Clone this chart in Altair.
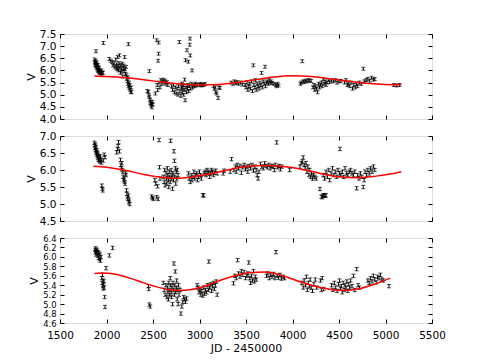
import altair as alt
import pandas as pd

# ---------------- Panel 1 data ----------------
t1 = [1872, 1875, 1878, 1880, 1883, 1885, 1887, 1888, 1890, 1893, 1895, 1898, 1900, 1903, 1905, 1908, 1910,
      1913, 1915, 1918, 1920, 1923, 1925, 1930, 1935, 1940, 1945, 1950, 1955, 1960, 1966,
      2030, 2045, 2060, 2070, 2080, 2090, 2100, 2105, 2110, 2115, 2120, 2125, 2130, 2135, 2140, 2145,
      2150, 2155, 2160, 2165, 2170, 2175, 2180, 2185, 2190, 2195, 2200, 2205, 2210, 2215, 2220, 2225,
      2228, 2232, 2235, 2238, 2242, 2245, 2250, 2255, 2260, 2265, 2270,
      2440, 2450, 2455, 2460, 2462, 2468, 2472, 2476, 2480, 2484, 2488, 2492, 2498,
      2525, 2540, 2545, 2550, 2555, 2560, 2562, 2565, 2575, 2585, 2595, 2600, 2610, 2620, 2630, 2640,
      2650, 2660,
      2700, 2710, 2720, 2730, 2740, 2750, 2760, 2770, 2775, 2783, 2790, 2800, 2805, 2810, 2815, 2820,
      2825, 2830, 2835, 2840, 2845, 2850, 2855, 2860, 2865, 2870, 2875, 2880, 2885, 2890, 2895, 2898,
      2900, 2905, 2910, 2920, 2925, 2935, 2945, 2955, 2965, 2975,
      3000, 3010, 3020, 3030, 3045, 3060,
      3150, 3160, 3170, 3175, 3185, 3200, 3210, 3220,
      3340, 3360, 3375, 3390, 3405, 3420, 3440, 3460,
      3490, 3500, 3510, 3520, 3530, 3540, 3550, 3560, 3570, 3578, 3585, 3595, 3600, 3610, 3620, 3630,
      3640, 3650, 3660, 3667, 3675, 3685, 3695, 3704, 3710, 3720, 3730, 3740, 3750, 3760, 3770, 3780,
      3800, 3820, 3830, 3840, 3850,
      4085, 4095, 4105, 4115, 4125, 4140, 4155, 4170, 4185, 4200,
      4220, 4230, 4240, 4250, 4260, 4270, 4280, 4290, 4300, 4310, 4320, 4330, 4340, 4350, 4360, 4370,
      4385, 4400, 4420, 4440, 4460, 4480, 4500, 4520,
      4560, 4575, 4590, 4600, 4615, 4630, 4645, 4660, 4675, 4690, 4700, 4720, 4740, 4761, 4770, 4790,
      4810, 4830, 4850, 4870, 4885,
      5090, 5120, 5150]
v1 = [6.45, 6.35, 6.30, 6.22, 6.40, 6.28, 6.79, 6.18, 6.25, 6.12, 6.33, 6.20, 6.08, 6.15, 6.02, 6.22, 5.98,
      6.10, 6.05, 5.95, 6.12, 5.92, 6.00, 5.90, 5.95, 5.88, 6.00, 5.87, 5.92, 5.90, 7.13,
      6.47, 6.40, 6.35, 6.20, 6.30, 6.15, 6.45, 6.10, 6.25, 6.05, 6.55, 6.18, 6.00, 6.30, 6.62, 6.12,
      5.90, 6.22, 6.05, 5.95, 6.28, 5.75, 6.10, 6.20, 5.98, 6.55, 6.05, 5.85, 6.15, 5.80, 5.65, 5.55,
      5.72, 5.45, 7.08, 5.35, 5.50, 5.28, 5.40, 5.20, 5.12, 5.30, 5.10,
      5.15, 5.12, 4.97, 5.97, 4.90, 4.80, 4.65, 4.72, 4.55, 4.62, 4.48, 4.70, 4.60,
      5.05, 7.24, 5.40, 5.20, 6.40, 6.69, 7.15, 5.50, 5.30, 5.60, 5.45, 5.55, 5.62, 5.50, 5.58, 5.45,
      5.52, 5.40,
      5.35, 5.20, 5.40, 5.10, 5.30, 5.05, 5.25, 5.00, 5.35, 7.17, 5.15, 4.95, 5.30, 5.45, 5.10, 5.25,
      5.40, 5.00, 5.20, 5.62, 4.77, 6.42, 5.30, 5.10, 6.83, 5.25, 5.40, 6.36, 5.15, 5.35, 7.06, 7.31,
      6.62, 5.25, 5.45, 6.00, 5.30, 5.40, 5.35, 5.45, 5.38, 5.42,
      5.40, 5.45, 5.38, 5.42, 5.40, 5.44,
      5.35, 5.25, 5.30, 5.10, 5.05, 4.87, 5.30, 5.28,
      5.50, 5.45, 5.55, 5.48, 5.52, 5.45, 5.50, 5.42,
      5.40, 5.30, 5.50, 5.20, 5.35, 5.45, 5.25, 5.55, 5.15, 6.21, 5.40, 5.30, 5.60, 5.20, 5.45, 5.35,
      5.25, 5.50, 5.40, 5.90, 5.30, 5.55, 5.45, 6.15, 5.35, 5.50, 5.55, 5.45, 5.60, 5.50, 5.55, 5.48,
      5.45, 5.40, 5.35, 5.45, 5.38,
      5.45, 5.50, 6.38, 5.55, 5.52, 5.58, 5.55, 5.60, 5.58, 5.57,
      5.30, 5.40, 5.20, 5.35, 5.25, 5.10, 5.45, 5.30, 5.40, 5.50, 5.35, 5.65, 5.45, 5.55, 5.40, 5.50,
      5.60, 5.52, 5.58, 5.55, 5.60, 5.50, 5.55, 5.57,
      5.50, 5.60, 5.40, 5.45, 5.35, 5.50, 5.25, 5.40, 5.30, 5.45, 5.35, 5.50, 5.45, 6.07, 5.55, 5.60,
      5.65, 5.58, 5.70, 5.62, 5.65,
      5.40, 5.38, 5.40]
fit1_t = [1870, 2000, 2200, 2400, 2600, 2800, 3000, 3200, 3400, 3600, 3800, 4000, 4200, 4400, 4600, 4800, 5000, 5170]
fit1_v = [5.77, 5.75, 5.70, 5.62, 5.52, 5.44, 5.40, 5.42, 5.50, 5.62, 5.73, 5.78, 5.75, 5.66, 5.56, 5.47, 5.42, 5.41]

# ---------------- Panel 2 data ----------------
t2 = [1870, 1873, 1876, 1879, 1882, 1885, 1888, 1891, 1894, 1897, 1900, 1903, 1906, 1909, 1912, 1915, 1918,
      1921, 1925, 1930, 1935, 1940, 1945, 1950, 1955, 1960, 1965, 1975, 1984,
      2110, 2118, 2125, 2130, 2140, 2150, 2155, 2160, 2165, 2170, 2175, 2180, 2185, 2190, 2195, 2200,
      2205, 2210, 2215, 2220, 2225, 2230, 2235, 2240, 2245, 2250,
      2485, 2495, 2505, 2520, 2530, 2540, 2550, 2555, 2565, 2570, 2575,
      2610, 2620, 2625, 2630, 2640, 2645, 2650, 2655, 2660, 2665, 2670, 2675, 2680, 2685, 2690, 2695,
      2700, 2705, 2710, 2715, 2720, 2725, 2730, 2735, 2740, 2745, 2750, 2755, 2760, 2770,
      2880, 2890, 2900, 2910, 2920, 2930, 2940, 2950, 2960, 2970, 2980, 2990, 3000, 3010, 3020, 3035,
      3045, 3050, 3060, 3070, 3080, 3090, 3100, 3110, 3120, 3130, 3140, 3150, 3160, 3175, 3190,
      3255, 3265, 3330, 3345, 3370,
      3385, 3395, 3405, 3420, 3435, 3450, 3465, 3480, 3495, 3510, 3520,
      3535, 3550, 3565, 3580, 3595, 3610, 3620, 3630, 3640, 3655, 3670, 3685, 3700, 3715, 3730, 3745,
      3760, 3775, 3790, 3805, 3815, 3830, 3840, 3855, 3870, 3885, 3970,
      4080, 4095, 4105, 4115, 4125, 4135, 4145, 4155, 4165, 4175, 4185, 4195, 4205, 4215, 4225, 4240, 4255,
      4295, 4310, 4320, 4330, 4340, 4350, 4360,
      4330, 4345, 4360, 4375, 4390, 4400, 4415, 4430, 4445, 4460, 4475, 4490, 4505, 4510, 4520, 4535,
      4550, 4565, 4580, 4595, 4610, 4625, 4640, 4655, 4670,
      4690, 4700, 4715, 4730, 4745, 4760, 4770, 4780, 4795, 4810, 4825, 4840, 4855, 4870, 4885]
v2 = [6.80, 6.72, 6.65, 6.75, 6.60, 6.55, 6.68, 6.50, 6.58, 6.45, 6.52, 6.40, 6.48, 6.35, 6.42, 6.30, 6.38,
      6.28, 6.33, 6.25, 6.40, 6.30, 6.22, 5.54, 5.45, 5.40, 6.28, 6.45, 6.38,
      6.52, 6.62, 6.70, 6.82, 6.55, 6.30, 6.15, 6.05, 6.20, 6.00, 5.95, 5.80, 5.70, 5.75, 5.65, 5.60,
      5.90, 5.85, 5.40, 5.30, 5.20, 5.15, 5.25, 5.05, 5.10, 5.00,
      5.22, 5.18, 5.15, 5.70, 5.60, 5.20, 5.52, 5.15, 6.88, 6.08, 5.75,
      5.80, 5.65, 6.00, 5.55, 5.90, 5.75, 5.60, 6.05, 5.85, 5.70, 5.50, 5.95, 5.80, 5.65, 6.86, 6.00,
      5.75, 5.85, 5.45, 5.90, 5.70, 6.55, 6.27, 5.80, 6.05, 5.60, 5.95, 5.75, 6.00, 5.85,
      5.90, 5.75, 5.65, 5.85, 5.70, 5.80, 5.95, 5.75, 5.85, 5.90, 5.70, 5.80, 5.95, 5.85, 5.75, 5.26,
      5.25, 5.90, 5.95, 5.85, 6.00, 5.90, 5.95, 5.80, 5.90, 6.00, 5.95, 5.85, 5.92, 5.98, 5.90,
      5.90, 5.98, 5.95, 6.32, 6.00,
      6.10, 5.95, 6.15, 6.05, 6.12, 5.92, 6.08, 6.15, 6.02, 6.10, 5.95,
      6.12, 6.05, 6.15, 5.98, 6.10, 6.00, 5.85, 5.75, 5.95, 6.18, 6.10, 6.05, 6.20, 6.12, 6.08, 6.15,
      6.05, 6.12, 6.10, 6.00, 6.15, 6.81, 6.08, 6.12, 6.02, 6.10, 6.00,
      6.10, 6.20, 6.25, 6.37, 6.15, 6.05, 6.20, 5.95, 6.10, 5.85, 6.00, 5.80, 5.90, 5.75, 5.85, 5.80, 5.75,
      5.44, 5.22, 5.20, 5.26, 5.24, 5.26, 5.25,
      5.85, 5.75, 5.95, 5.80, 6.00, 5.70, 5.90, 6.05, 5.85, 5.95, 5.80, 6.00, 5.90, 6.62, 5.85, 5.95,
      5.80, 6.05, 5.90, 5.85, 5.95, 6.00, 5.90, 5.85, 5.95,
      5.46, 5.85, 5.75, 5.90, 5.80, 5.50, 5.70, 5.95, 5.85, 6.00, 5.90, 6.05, 5.95, 6.10, 6.00]
fit2_t = [1860, 2000, 2200, 2400, 2600, 2750, 2900, 3100, 3300, 3500, 3700, 3900, 4100, 4300, 4500, 4700, 4900, 5050, 5170]
fit2_v = [6.11, 6.08, 5.99, 5.87, 5.78, 5.76, 5.79, 5.88, 6.00, 6.10, 6.13, 6.10, 6.02, 5.90, 5.80, 5.77, 5.82, 5.88, 5.95]

# ---------------- Panel 3 data ----------------
t3 = [1876, 1880, 1884, 1888, 1892, 1896, 1900, 1905, 1910, 1915, 1920, 1925, 1930, 1935, 1940,
      1950, 1953, 1956, 1959, 1962, 1965, 1968, 1972, 1976, 1980, 1984, 1995, 2030, 2066,
      2450, 2455, 2460, 2470,
      2610, 2620, 2630, 2640, 2650, 2655, 2660, 2665, 2670, 2675, 2680, 2685, 2690, 2695, 2700, 2705,
      2710, 2715, 2720, 2725, 2730, 2735, 2740, 2745, 2750, 2755, 2760, 2765, 2770, 2775, 2780, 2790,
      2800, 2810, 2820, 2830, 2840, 2850, 2860,
      2975, 2985, 2995, 3005, 3015, 3025, 3035, 3045, 3055, 3065, 3075, 3085, 3095, 3100, 3110, 3120,
      3130, 3140, 3150, 3160, 3170, 3180, 3190,
      3365, 3380, 3395, 3410, 3420, 3435, 3450, 3465, 3480, 3495, 3510, 3520,
      3530, 3540, 3550, 3560, 3570, 3580, 3590, 3600, 3610,
      3720, 3735, 3750, 3765, 3780, 3795, 3810, 3822, 3835, 3850, 3865, 3880, 3900, 3915,
      4100, 4115, 4125, 4140, 4150, 4160, 4170, 4180, 4190, 4200, 4215, 4230, 4245, 4260, 4300, 4310,
      4320, 4335,
      4420, 4435, 4450, 4465, 4480, 4495, 4505, 4515, 4525, 4535, 4545, 4555, 4565, 4575, 4585, 4595,
      4605, 4615, 4625, 4640, 4655, 4670, 4690, 4705, 4720,
      4810, 4825, 4840, 4855, 4870, 4885, 4900, 4915, 4930, 4945, 4960, 4975,
      5037]
v3 = [6.15, 6.10, 6.18, 6.05, 6.12, 6.08, 6.15, 6.02, 6.10, 5.98, 6.07, 5.95, 6.05, 5.92, 6.00,
      5.55, 5.45, 5.62, 5.38, 5.50, 5.33, 5.42, 5.48, 5.35, 5.15, 4.94, 5.76, 6.03, 6.19,
      5.38, 5.32, 4.99, 4.95,
      5.45, 5.30, 5.20, 5.40, 5.15, 5.35, 5.25, 5.10, 5.45, 5.30, 5.20, 5.55, 5.40, 5.25, 5.15, 5.35,
      5.00, 5.45, 5.30, 5.86, 5.20, 5.40, 5.69, 5.25, 5.35, 5.50, 5.10, 5.30, 5.00, 5.40, 5.20, 5.30,
      4.80, 4.95, 5.05, 5.15, 5.10, 5.05, 5.12,
      5.40, 5.35, 5.25, 5.30, 5.20, 5.28, 5.18, 5.35, 5.22, 5.30, 5.25, 5.40, 5.30, 5.90, 5.35, 5.42,
      5.28, 5.38, 5.45, 5.32, 5.40, 5.48, 5.20,
      5.44, 5.60, 5.55, 5.93, 5.65, 5.58, 5.70, 5.62, 5.68, 5.55, 5.60, 5.65,
      5.88, 5.55, 5.45, 5.60, 5.50, 5.70, 5.48, 5.58, 5.52,
      5.60, 5.65, 5.55, 5.62, 5.58, 5.64, 5.55, 6.10, 5.60, 5.56, 5.62, 5.54, 5.58, 5.55,
      5.45, 5.35, 5.50, 5.40, 5.58, 5.30, 5.45, 5.38, 5.52, 5.35, 5.28, 5.42, 5.52, 5.35, 5.50, 5.30,
      5.55, 5.32,
      5.40, 5.30, 5.45, 5.35, 5.28, 5.42, 5.50, 5.33, 5.38, 5.25, 5.45, 5.30, 5.40, 5.35, 5.48, 5.28,
      5.42, 5.35, 5.50, 5.38, 5.60, 5.30, 5.74, 5.40, 5.35,
      5.50, 5.45, 5.55, 5.48, 5.60, 5.52, 5.46, 5.58, 5.55, 5.62, 5.52, 5.50,
      5.38]
fit3_t = [1870, 1950, 2100, 2250, 2400, 2550, 2700, 2800, 2950, 3100, 3250, 3400, 3550, 3700, 3850, 4000,
          4150, 4300, 4450, 4560, 4700, 4850, 5050]
fit3_v = [5.65, 5.66, 5.63, 5.55, 5.45, 5.36, 5.30, 5.29, 5.32, 5.41, 5.52, 5.61, 5.67, 5.68, 5.63, 5.53,
          5.43, 5.35, 5.30, 5.29, 5.32, 5.40, 5.55]

errors = [0.06, 0.05, 0.035]
x_ticks = [1500, 2000, 2500, 3000, 3500, 4000, 4500, 5000, 5500]
y_ticks1 = [4.0, 4.5, 5.0, 5.5, 6.0, 6.5, 7.0, 7.5]
y_ticks2 = [4.5, 5.0, 5.5, 6.0, 6.5, 7.0]
y_ticks3 = [4.6, 4.8, 5.0, 5.2, 5.4, 5.6, 5.8, 6.0, 6.2, 6.4]

FONT = "DejaVu Sans"
FS = 10.5


def panel(t, v, err, ft, fv, ydom, yticks, bottom, ylab_fs):
    df = pd.DataFrame({"jd": t, "v": v})
    df["lo"] = df["v"] - err
    df["hi"] = df["v"] + err
    fit = pd.DataFrame({"jd": ft, "v": fv})
    xs = alt.Scale(domain=[1500, 5500], nice=False, zero=False)
    ys = alt.Scale(domain=ydom, nice=False, zero=False)
    common = dict(grid=False, domain=False, tickSize=4, offset=-4, tickColor="black",
                  labelColor="black", labelFont=FONT, titleFont=FONT,
                  titleFontSize=FS + 0.5, titleColor="black", titleFontWeight="normal",
                  labelFlush=False, labelOverlap=False)
    x_bottom = alt.Axis(values=x_ticks, labels=bottom, format="d", labelFontSize=FS,
                        title="JD - 2450000" if bottom else None,
                        labelPadding=7, titlePadding=2, **common)
    y_left = alt.Axis(values=yticks, format=".1f", title="V", labelPadding=4,
                      labelFontSize=ylab_fs, titlePadding=3, **common)
    x_top = alt.Axis(values=x_ticks, labels=False, title=None, orient="top", **common)
    y_right = alt.Axis(values=yticks, labels=False, title=None, orient="right", **common)

    base = alt.Chart(df)
    bars = base.mark_rule(color="black", strokeWidth=1).encode(
        x=alt.X("jd:Q", scale=xs, axis=x_bottom),
        y=alt.Y("lo:Q", scale=ys, axis=y_left),
        y2="hi:Q",
    )
    cap_lo = base.mark_tick(color="black", orient="horizontal", size=4, thickness=1).encode(
        x=alt.X("jd:Q", scale=xs, axis=None),
        y=alt.Y("lo:Q", scale=ys, axis=None),
    )
    cap_hi = base.mark_tick(color="black", orient="horizontal", size=4, thickness=1).encode(
        x=alt.X("jd:Q", scale=xs, axis=None),
        y=alt.Y("hi:Q", scale=ys, axis=None),
    )
    line = alt.Chart(fit).mark_line(color="#ff0000", strokeWidth=1.5, interpolate="monotone").encode(
        x=alt.X("jd:Q", scale=xs, axis=x_top),
        y=alt.Y("v:Q", scale=ys, axis=y_right),
    )
    return (alt.layer(bars, cap_lo, cap_hi, line)
            .resolve_axis(x="independent", y="independent")
            .properties(width=372, height=85))


p1 = panel(t1, v1, errors[0], fit1_t, fit1_v, [4.0, 7.5], y_ticks1, False, FS)
p2 = panel(t2, v2, errors[1], fit2_t, fit2_v, [4.5, 7.0], y_ticks2, False, FS)
p3 = panel(t3, v3, errors[2], fit3_t, fit3_v, [4.6, 6.4], y_ticks3, True, 8.4)

chart = (alt.vconcat(p1, p2, p3, spacing=17, bounds="flush")
         .properties(padding={"left": 16, "top": 20, "right": 5, "bottom": 3})
         .configure_view(stroke="black", strokeWidth=1)
         .configure(background="white"))

chart.save("out.html", embed_options={"renderer": "svg", "actions": False})
